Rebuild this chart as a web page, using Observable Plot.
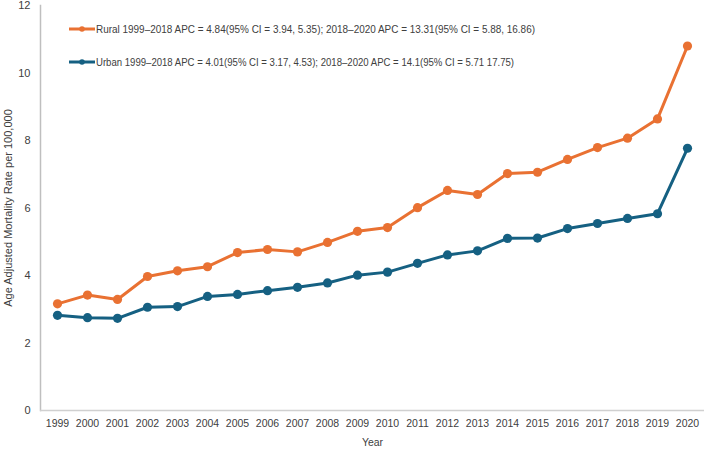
<!DOCTYPE html>
<html>
<head>
<meta charset="utf-8">
<script src="https://cdn.jsdelivr.net/npm/d3@7"></script>
<script src="https://cdn.jsdelivr.net/npm/@observablehq/plot@0.6"></script>
<style>
  html, body { margin: 0; padding: 0; background: #fff; }
  #chart { position: relative; width: 709px; height: 449px; }
</style>
</head>
<body>
<div id="chart"></div>
<script>
const years = [1999,2000,2001,2002,2003,2004,2005,2006,2007,2008,2009,2010,2011,2012,2013,2014,2015,2016,2017,2018,2019,2020];
const rural = [3.16,3.42,3.29,3.97,4.14,4.26,4.68,4.77,4.70,4.98,5.31,5.42,6.01,6.52,6.40,7.02,7.06,7.44,7.79,8.07,8.64,10.80];
const urban = [2.82,2.75,2.73,3.06,3.08,3.38,3.44,3.55,3.65,3.78,4.01,4.10,4.36,4.61,4.73,5.10,5.11,5.39,5.54,5.69,5.83,7.77];
const yTicks = [0,2,4,6,8,10,12];
const seriesNames = ["Rural", "Urban"];
const legendLabels = [
  "Rural 1999\u20132018 APC = 4.84(95% CI = 3.94, 5.35); 2018\u20132020 APC = 13.31(95% CI = 5.88, 16.86)",
  "Urban 1999\u20132018 APC = 4.01(95% CI = 3.17, 4.53); 2018\u20132020 APC = 14.1(95% CI = 5.71 17.75)"
];
const colors = ["#E97132", "#156082"];

const data = [];
years.forEach((y, i) => {
  data.push({year: String(y), value: rural[i], series: seriesNames[0]});
  data.push({year: String(y), value: urban[i], series: seriesNames[1]});
});

const font = "Liberation Sans, Arial, sans-serif";
const plot = Plot.plot({
  width: 709,
  height: 449,
  marginLeft: 40,
  marginRight: 5,
  marginTop: 5,
  marginBottom: 39,
  style: {fontFamily: font, fontSize: "10.5px", color: "#404040", background: "#fff"},
  x: {type: "point", domain: years.map(String), padding: 0.45},
  y: {domain: [0, 12]},
  color: {domain: seriesNames, range: colors},
  marks: [
    Plot.frame({anchor: "left", stroke: "#bfbfbf", strokeWidth: 1.5}),
    Plot.ruleY([0], {stroke: "#d0d0d0", strokeWidth: 1.5}),
    Plot.axisY({ticks: yTicks, tickSize: 0, tickPadding: 10, label: "Age Adjusted Mortality Rate per 100,000", labelAnchor: "center", labelOffset: 36, labelArrow: "none", fontSize: 11}),
    Plot.axisX({tickSize: 0, tickPadding: 9, label: "Year", labelAnchor: "center", labelOffset: 35, labelArrow: "none", fontSize: 10.5}),
    Plot.line(data, {x: "year", y: "value", z: "series", stroke: "series", strokeWidth: 3}),
    Plot.dot(data, {x: "year", y: "value", fill: "series", r: 4.6})
  ]
});
document.getElementById("chart").appendChild(plot);

// Legend inside plot area (top-left)
const svg = d3.select(plot);
const lg = svg.append("g").attr("class", "legend").attr("transform", "translate(69,29)");
legendLabels.forEach((lab, i) => {
  const g = lg.append("g").attr("transform", `translate(0,${i * 33})`);
  g.append("line").attr("x1", 0).attr("x2", 26).attr("y1", 0).attr("y2", 0)
    .attr("stroke", colors[i]).attr("stroke-width", 3);
  g.append("circle").attr("cx", 13).attr("cy", 0).attr("r", 2.8).attr("fill", colors[i]);
  g.append("text").attr("x", 27).attr("y", 0).attr("dy", "0.35em")
    .attr("text-anchor", "start")
    .attr("font-family", font).attr("font-size", 11).attr("fill", "#404040")
    .attr("textLength", i === 0 ? 439 : 418).attr("lengthAdjust", "spacingAndGlyphs")
    .text(lab);
});
</script>
</body>
</html>
